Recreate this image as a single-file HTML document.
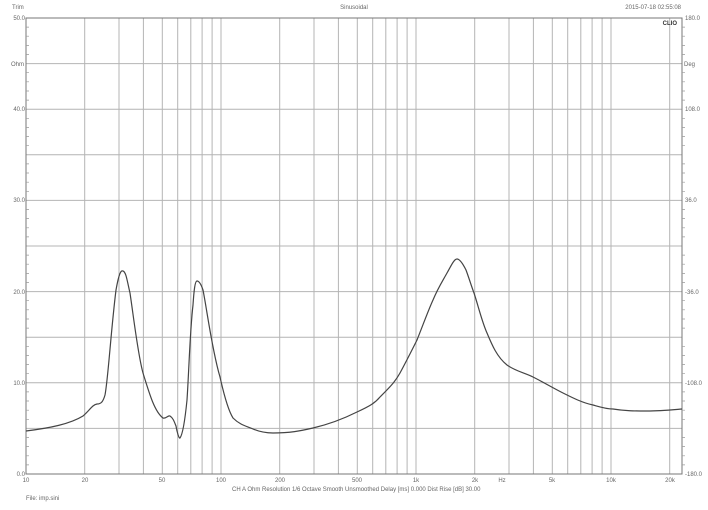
<!DOCTYPE html>
<html><head><style>body{margin:0;background:#fff}svg{display:block}text{font-family:"Liberation Sans",sans-serif;fill:#666;font-size:6px}</style></head>
<body>
<svg width="708" height="510" viewBox="0 0 708 510" xmlns="http://www.w3.org/2000/svg">
<rect width="708" height="510" fill="#fff"/>
<g stroke="#b4b4b4" stroke-width="1">
<!-- horizontal -->
<line x1="26" x2="682" y1="63.6" y2="63.6"/><line x1="26" x2="682" y1="109.2" y2="109.2"/>
<line x1="26" x2="682" y1="154.8" y2="154.8"/><line x1="26" x2="682" y1="200.4" y2="200.4"/>
<line x1="26" x2="682" y1="246" y2="246"/><line x1="26" x2="682" y1="291.6" y2="291.6"/>
<line x1="26" x2="682" y1="337.2" y2="337.2"/><line x1="26" x2="682" y1="382.8" y2="382.8"/>
<line x1="26" x2="682" y1="428.4" y2="428.4"/>
<!-- vertical -->
<line x1="84.7" x2="84.7" y1="18" y2="474"/><line x1="119" x2="119" y1="18" y2="474"/><line x1="143.4" x2="143.4" y1="18" y2="474"/><line x1="162.3" x2="162.3" y1="18" y2="474"/><line x1="177.7" x2="177.7" y1="18" y2="474"/><line x1="190.8" x2="190.8" y1="18" y2="474"/><line x1="202.1" x2="202.1" y1="18" y2="474"/><line x1="212.1" x2="212.1" y1="18" y2="474"/><line x1="221" x2="221" y1="18" y2="474"/>
<line x1="279.7" x2="279.7" y1="18" y2="474"/><line x1="314" x2="314" y1="18" y2="474"/><line x1="338.4" x2="338.4" y1="18" y2="474"/><line x1="357.3" x2="357.3" y1="18" y2="474"/><line x1="372.7" x2="372.7" y1="18" y2="474"/><line x1="385.8" x2="385.8" y1="18" y2="474"/><line x1="397.1" x2="397.1" y1="18" y2="474"/><line x1="407.1" x2="407.1" y1="18" y2="474"/><line x1="416" x2="416" y1="18" y2="474"/>
<line x1="474.7" x2="474.7" y1="18" y2="474"/><line x1="509" x2="509" y1="18" y2="474"/><line x1="533.4" x2="533.4" y1="18" y2="474"/><line x1="552.3" x2="552.3" y1="18" y2="474"/><line x1="567.7" x2="567.7" y1="18" y2="474"/><line x1="580.8" x2="580.8" y1="18" y2="474"/><line x1="592.1" x2="592.1" y1="18" y2="474"/><line x1="602.1" x2="602.1" y1="18" y2="474"/><line x1="611" x2="611" y1="18" y2="474"/><line x1="669.7" x2="669.7" y1="18" y2="474"/>
</g>
<rect x="26" y="18" width="656" height="456" fill="none" stroke="#777" stroke-width="1"/>
<g stroke="#999" stroke-width="0.7">
<path d="M26 27.1h3M26 36.2h3M26 45.4h3M26 54.5h3M26 72.7h3M26 81.8h3M26 91h3M26 100.1h3M26 118.3h3M26 127.4h3M26 136.6h3M26 145.7h3M26 163.9h3M26 173h3M26 182.2h3M26 191.3h3M26 209.5h3M26 218.6h3M26 227.8h3M26 236.9h3M26 255.1h3M26 264.2h3M26 273.4h3M26 282.5h3M26 300.7h3M26 309.8h3M26 319h3M26 328.1h3M26 346.3h3M26 355.4h3M26 364.6h3M26 373.7h3M26 391.9h3M26 401h3M26 410.2h3M26 419.3h3M26 437.5h3M26 446.6h3M26 455.8h3M26 464.9h3"/>
<path d="M682 27.1h3M682 36.2h3M682 45.4h3M682 54.5h3M682 72.7h3M682 81.8h3M682 91h3M682 100.1h3M682 118.3h3M682 127.4h3M682 136.6h3M682 145.7h3M682 163.9h3M682 173h3M682 182.2h3M682 191.3h3M682 209.5h3M682 218.6h3M682 227.8h3M682 236.9h3M682 255.1h3M682 264.2h3M682 273.4h3M682 282.5h3M682 300.7h3M682 309.8h3M682 319h3M682 328.1h3M682 346.3h3M682 355.4h3M682 364.6h3M682 373.7h3M682 391.9h3M682 401h3M682 410.2h3M682 419.3h3M682 437.5h3M682 446.6h3M682 455.8h3M682 464.9h3"/>
</g>
<path fill="none" stroke="#444" stroke-width="1.2" stroke-linejoin="round" d="M26 431 C50 428 70 424 83 416 C90 410 92 405 97 404 C101 404 103 402 105 395 C108 380 111 330 116 290 C119 273 121 270 123 271 C126 272 127 280 130 293 C134 320 138 355 143 373 C150 396 155 412 163 418 C166 419 168 415 170 416 C173 418 174 421 176 426 C177 432 179 439 180 438 C183 434 185 420 187 400 C189 370 190 330 193 305 C194 290 195 281 197 281 C199 281 201 284 203 290 C207 310 212 350 220 377 C224 395 228 410 233 418 C240 425 246 426 253 429 C260 432 266 433 273 433 C290 433 300 431 313 428 C330 424 345 418 357 412 C370 406 375 403 380 397 C390 387 395 382 400 373 C407 360 412 350 417 340 C423 325 428 311 433 300 C438 288 442 282 447 273 C451 266 454 259 457 259 C460 259 463 264 466 270 C469 278 471 285 474 293 C478 305 482 322 487 333 C492 345 497 357 507 365 C515 371 525 373 533 377 C543 382 553 388 563 393 C573 398 583 403 593 405 C600 407 606 409 613 409 C625 411 635 411 647 411 C660 411 670 410 682 409"/>
<text x="12" y="9" font-size="5.5">Trim</text>
<text x="354" y="9" text-anchor="middle" font-size="5.5">Sinusoidal</text>
<text x="681" y="9" text-anchor="end" font-size="5.5">2015-07-18 02:55:08</text>
<text x="677" y="25" text-anchor="end" font-size="5.5" font-weight="bold" style="fill:#333">CLIO</text>
<g text-anchor="end" font-size="5.5">
<text x="25" y="20">50.0</text><text x="24" y="66">Ohm</text><text x="25" y="111">40.0</text><text x="25" y="202">30.0</text><text x="25" y="294">20.0</text><text x="25" y="385">10.0</text><text x="25" y="476">0.0</text>
</g>
<g font-size="5.5">
<text x="685" y="20">180.0</text><text x="684" y="66">Deg</text><text x="685" y="111">108.0</text><text x="685" y="202">36.0</text><text x="685" y="294">-36.0</text><text x="685" y="385">-108.0</text><text x="685" y="476">-180.0</text>
</g>
<g text-anchor="middle" font-size="5.5">
<text x="26" y="482">10</text><text x="85" y="482">20</text><text x="162" y="482">50</text><text x="221" y="482">100</text><text x="280" y="482">200</text><text x="357" y="482">500</text><text x="416" y="482">1k</text><text x="475" y="482">2k</text><text x="502" y="482">Hz</text><text x="552" y="482">5k</text><text x="611" y="482">10k</text><text x="670" y="482">20k</text>
</g>
<text x="232" y="491" font-size="5.3">CH A   Ohm   Resolution 1/6 Octave   Smooth Unsmoothed   Delay [ms] 0.000   Dist Rise [dB] 30.00</text>
<text x="26" y="500" font-size="5.5">File: imp.sini</text>
</svg>
</body></html>
